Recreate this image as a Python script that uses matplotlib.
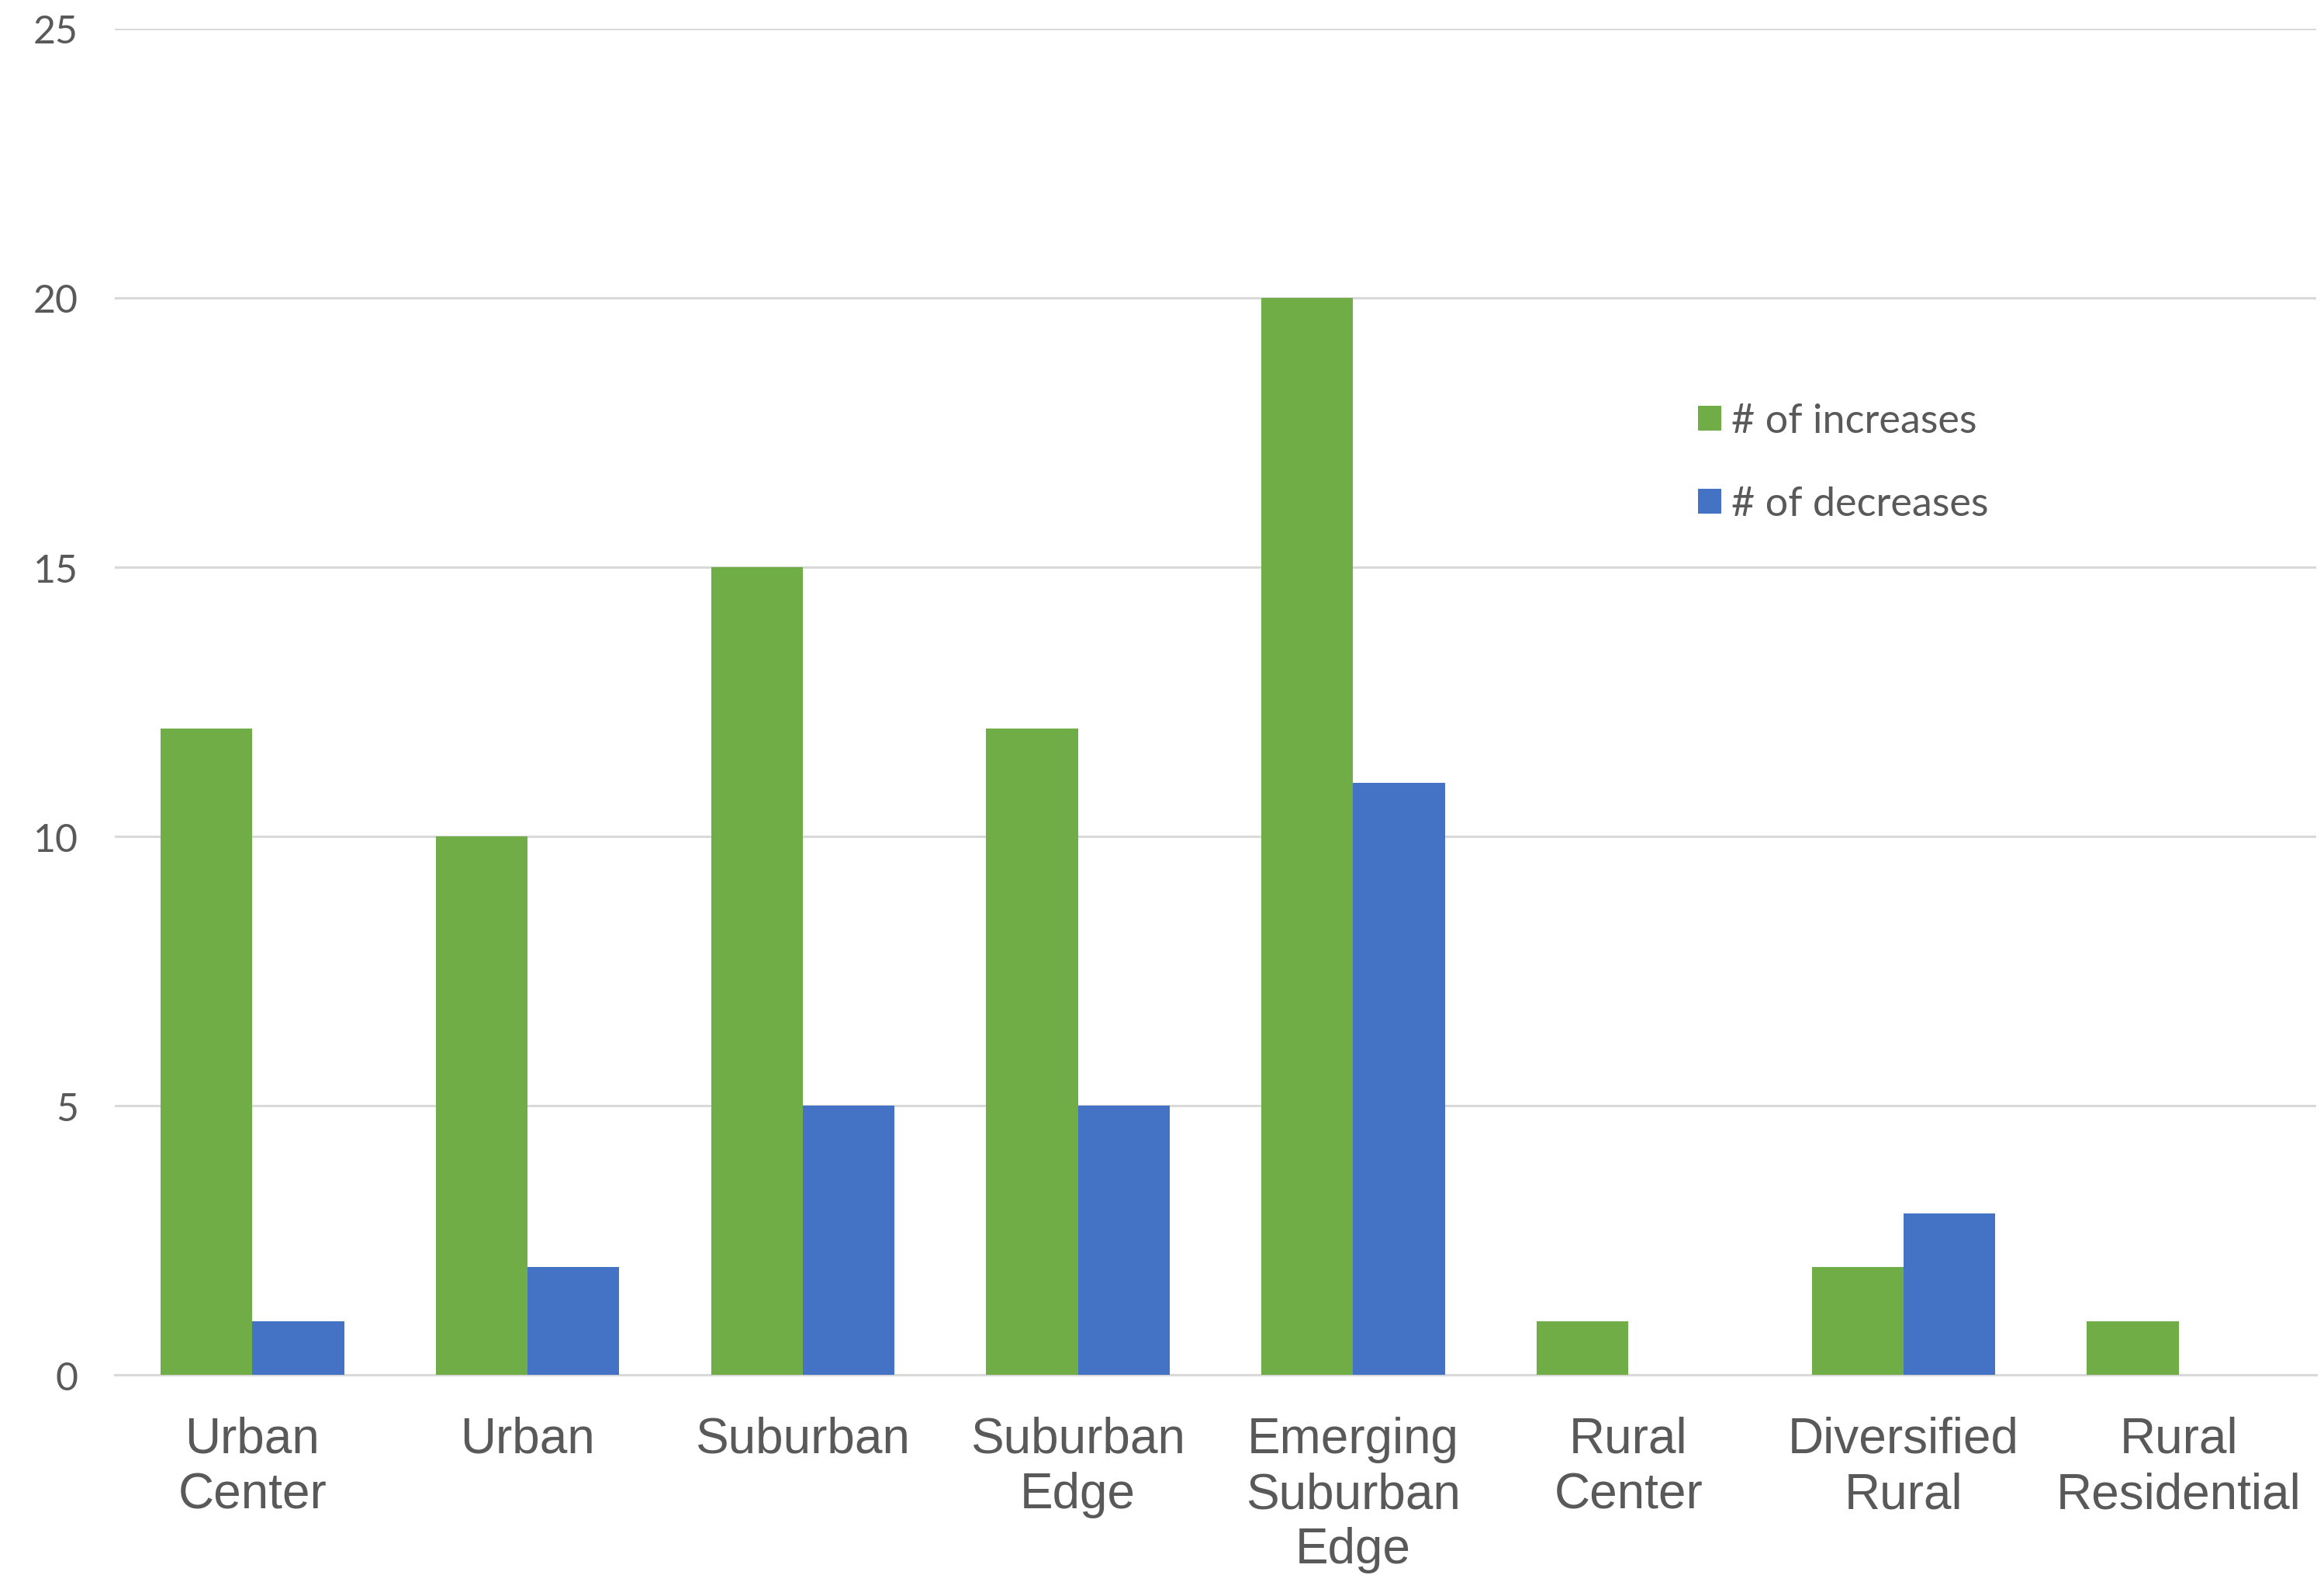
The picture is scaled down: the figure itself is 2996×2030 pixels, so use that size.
import numpy as np
import matplotlib
matplotlib.use("Agg")
import matplotlib.pyplot as plt

# data
kategorie = ["Urban\nCenter", "Urban", "Suburban", "Suburban\nEdge",
             "Emerging\nSuburban\nEdge", "Rural\nCenter", "Diversified\nRural",
             "Rural\nResidential"]
wzrosty = [12, 10, 15, 12, 20, 1, 2, 1]
spadki = [1, 2, 5, 5, 11, 0, 3, 0]
y_ticks = [0, 5, 10, 15, 20, 25]

ZIELONY = "#70AD47"
NIEBIESKI = "#4472C4"
SZARY_TEKST = "#595959"
SIATKA = "#D9D9D9"

fig = plt.figure(figsize=(29.96, 20.31), dpi=100)
ax = fig.add_axes([0.0494, 0.1270, 0.9473, 0.8543])

x = np.arange(len(kategorie))
szer = 1 / 3
ax.bar(x - szer / 2, wzrosty, szer, color=ZIELONY, label="# of increases", zorder=3)
ax.bar(x + szer / 2, spadki, szer, color=NIEBIESKI, label="# of decreases", zorder=3)

ax.set_xlim(-0.5, len(kategorie) - 0.5)
ax.set_ylim(0, 25)
ax.set_yticks(y_ticks)
ax.set_yticklabels([str(v) for v in y_ticks], fontfamily="Lato", fontsize=36,
                   color=SZARY_TEKST)
ax.set_xticks(x)
ax.set_xticklabels(kategorie, fontfamily="Liberation Sans", fontsize=46,
                   color=SZARY_TEKST, linespacing=1.24)

ax.yaxis.grid(True, color=SIATKA, linewidth=2.2, zorder=0)
ax.set_axisbelow(True)
for s in ["top", "right", "left"]:
    ax.spines[s].set_visible(False)
ax.spines["bottom"].set_color(SIATKA)
ax.spines["bottom"].set_linewidth(2.2)
ax.tick_params(axis="both", length=0)
ax.tick_params(axis="y", pad=34)
ax.tick_params(axis="x", pad=38)

fs = 37.5  # pt
fs_px = fs * 100 / 72
leg = ax.legend(loc="upper left", bbox_to_anchor=(0.719, 0.722), frameon=False,
                prop={"family": "Lato", "size": fs},
                handlelength=30 / fs_px, handleheight=30 / fs_px,
                handletextpad=13 / fs_px, labelspacing=1.15, borderpad=0,
                borderaxespad=0)
for t in leg.get_texts():
    t.set_color(SZARY_TEKST)

fig.savefig("out.png", dpi=100, facecolor="white")
